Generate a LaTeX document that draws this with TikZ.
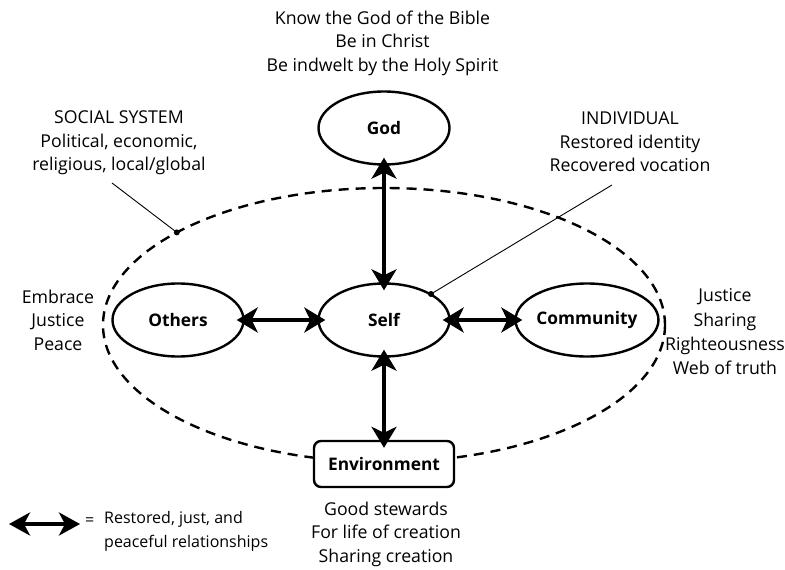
\documentclass[tikz,border=0pt]{standalone}
\usepackage{fontspec}
\setmainfont{Open Sans}
\usetikzlibrary{shapes.geometric,arrows.meta}
\begin{document}
\begin{tikzpicture}[x=1pt,y=-1pt,
  ell/.style={draw,ellipse,line width=2.4pt,minimum width=131pt,minimum height=73pt,inner sep=0pt,font=\fontsize{17.3}{17}\selectfont\bfseries,fill=white},
  envbox/.style={draw,rounded corners=7pt,line width=2.4pt,minimum width=140pt,minimum height=46pt,inner sep=0pt,font=\fontsize{17.3}{17}\selectfont\bfseries,fill=white},
  rel/.style={line width=4.5pt,{Stealth[length=21pt,width=25pt,inset=6pt]}-{Stealth[length=21pt,width=25pt,inset=6pt]},shorten <=-8pt,shorten >=-8pt},
  txt/.style={align=center,font=\fontsize{17.7}{23.5}\selectfont,inner sep=0pt},
  lgtxtstyle/.style={align=left,font=\fontsize{16}{24}\selectfont,inner sep=0pt},
  leader/.style={line width=0.9pt},
  dotmark/.style={circle,fill=black,inner sep=0pt,minimum size=6pt}
]
\useasboundingbox (0,0) rectangle (785,570);
% dashed social system ellipse
\draw[line width=2.4pt,dash pattern=on 10pt off 7pt] (384,325) ellipse [x radius=281, y radius=137];
% nodes
\node[ell] (god) at (384,128) {God};
\node[ell] (self) at (384,320) {Self};
\node[ell] (others) at (178,320) {Others};
\node[ell] (comm) at (587,320) {Community};
\node[envbox] (env) at (384,464) {Environment};
% relationships
\draw[rel] (god) -- (self);
\draw[rel] (self) -- (env);
\draw[rel] (others) -- (self);
\draw[rel] (self) -- (comm);
% texts
\node[txt] (godtxt) at (382.5,43) {Know the God of the Bible\\Be in Christ\\Be indwelt by the Holy Spirit};
\node[txt] (soc) at (119,143) {SOCIAL SYSTEM\\Political, economic,\\religious, local/global};
\node[txt] (ind) at (630,142) {INDIVIDUAL\\Restored identity\\Recovered vocation};
\node[txt] (embr) at (58,320) {Embrace\\Justice\\Peace};
\node[txt,font=\fontsize{17.7}{24.3}\selectfont] (just) at (725,332) {Justice\\Sharing\\Righteousness\\Web of truth};
\node[txt] (stew) at (386,534) {Good stewards\\For life of creation\\Sharing creation};
% leaders
\node[dotmark] (socdot) at (176.8,232.4) {};
\coordinate (socstart) at (112,183);
\draw[leader] (socstart) -- (socdot.center);
\node[dotmark] (inddot) at (431,294) {};
\coordinate (indstart) at (612,185);
\draw[leader] (indstart) -- (inddot.center);
% legend
\coordinate (lga) at (9,524);
\coordinate (lgb) at (80,524);
\draw[line width=4pt,{Stealth[length=21pt,width=23pt,inset=6pt]}-{Stealth[length=21pt,width=23pt,inset=6pt]}] (lga) -- (lgb);
\node[lgtxtstyle,anchor=west] (eq) at (85,522) {=};
\node[lgtxtstyle,anchor=north west] (lgtxt) at (104,511) {Restored, just, and\\peaceful relationships};
\end{tikzpicture}
\end{document}
